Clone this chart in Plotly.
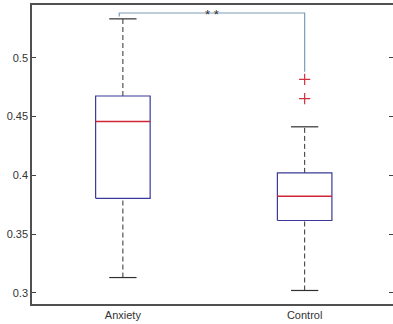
import plotly.graph_objects as go

categories = ["Anxiety", "Control"]
q1 = [0.3804, 0.3615]
medians = [0.4457, 0.3821]
q3 = [0.4674, 0.4020]
lower_whisker = [0.313, 0.302]
upper_whisker = [0.533, 0.4412]
outlier_group = ["Control", "Control"]
outlier_values = [0.4816, 0.4651]
y_ticks = [0.3, 0.35, 0.4, 0.45, 0.5]
bracket_level = 0.538
bracket_ends = [0.535, 0.488]
sig_label = "* *"

BOX_HW = 0.15
CAP_HW = 0.075
BOX_COLOR = "#3a3a98"
MED_COLOR = "#d02638"
WHISK_COLOR = "#303030"

fig = go.Figure()
pos = {c: i + 1 for i, c in enumerate(categories)}

for i, c in enumerate(categories):
    p = pos[c]
    fig.add_trace(go.Scatter(x=[p, p], y=[q3[i], upper_whisker[i]], mode="lines",
                             line=dict(color=WHISK_COLOR, width=1, dash="5px,3px"),
                             showlegend=False, hoverinfo="skip"))
    fig.add_trace(go.Scatter(x=[p, p], y=[lower_whisker[i], q1[i]], mode="lines",
                             line=dict(color=WHISK_COLOR, width=1, dash="5px,3px"),
                             showlegend=False, hoverinfo="skip"))
    for v in (upper_whisker[i], lower_whisker[i]):
        fig.add_trace(go.Scatter(x=[p - CAP_HW, p + CAP_HW], y=[v, v], mode="lines",
                                 line=dict(color=WHISK_COLOR, width=1.2),
                                 showlegend=False, hoverinfo="skip"))
    fig.add_trace(go.Scatter(x=[p - BOX_HW, p + BOX_HW, p + BOX_HW, p - BOX_HW, p - BOX_HW],
                             y=[q1[i], q1[i], q3[i], q3[i], q1[i]], mode="lines",
                             line=dict(color=BOX_COLOR, width=1.2),
                             showlegend=False, hoverinfo="skip"))
    fig.add_trace(go.Scatter(x=[p - BOX_HW, p + BOX_HW], y=[medians[i], medians[i]], mode="lines",
                             line=dict(color=MED_COLOR, width=1.4),
                             showlegend=False, hoverinfo="skip"))

fig.add_trace(go.Scatter(x=[pos[g] for g in outlier_group], y=outlier_values, mode="markers",
                         marker=dict(symbol="cross-thin-open", size=8, color="#d03040",
                                     line=dict(color="#d03040", width=1.2)),
                         showlegend=False, hoverinfo="skip"))

xl, xr = pos[categories[0]] - 0.02, pos[categories[1]]
fig.add_trace(go.Scatter(x=[xl, xl, xr, xr],
                         y=[bracket_ends[0], bracket_level, bracket_level, bracket_ends[1]],
                         mode="lines", line=dict(color="#7f9bb8", width=1.2),
                         showlegend=False, hoverinfo="skip", yaxis="y2"))
fig.add_annotation(x=(xl + xr) / 2, y=bracket_level, text=sig_label, showarrow=False,
                   yanchor="middle", yshift=-1, font=dict(size=13, color="#333333"))

yr = [0.2905, 0.5448]
fig.update_layout(
    width=393, height=324,
    margin=dict(l=32, r=0, t=5, b=20),
    paper_bgcolor="white", plot_bgcolor="white",
    font=dict(family="Liberation Sans, Arial, sans-serif", size=11, color="#333333"),
    xaxis=dict(range=[0.5, 2.486], tickvals=[1, 2], ticktext=categories,
               showline=True, linecolor="#505050", linewidth=1.5, mirror=True,
               ticks="", showgrid=False, zeroline=False, automargin=False),
    yaxis=dict(range=yr, tickvals=y_ticks, ticktext=[f"{v:g}" for v in y_ticks],
               showline=True, linecolor="#505050", linewidth=1.5,
               ticks="inside", ticklen=4, tickcolor="#404040",
               showgrid=False, zeroline=False, automargin=False),
    yaxis2=dict(range=yr, overlaying="y", side="right", tickvals=y_ticks,
                showticklabels=False, ticks="inside", ticklen=4, tickcolor="#404040",
                showline=False, showgrid=False, zeroline=False, automargin=False),
)

fig.write_html("out.html", config={"displayModeBar": False},
               post_script="document.body.style.margin='0px';")
